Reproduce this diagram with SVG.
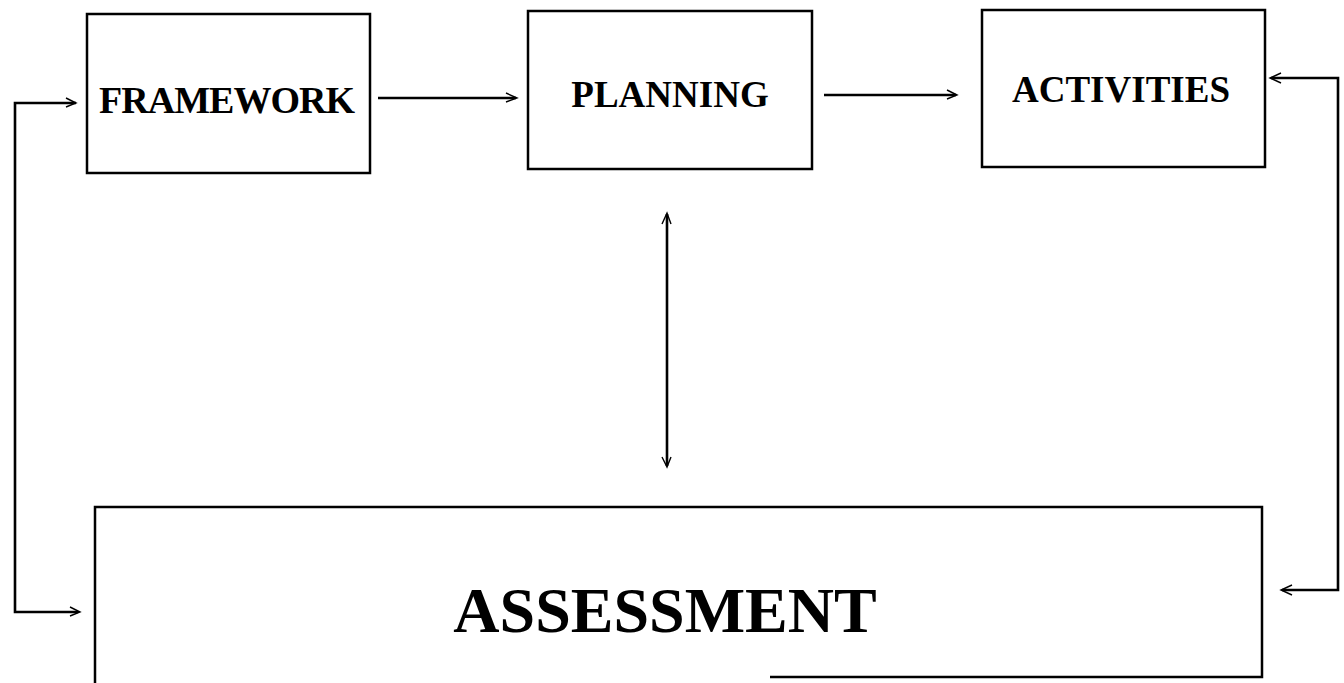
<svg xmlns="http://www.w3.org/2000/svg" width="1344" height="683" viewBox="0 0 1344 683">
<style>
.box{fill:#fff;stroke:#000;stroke-width:2.5}
.lbl{font-family:"Liberation Serif","Times New Roman",serif;font-weight:bold;fill:#000}
.c{fill:none;stroke:#000;stroke-width:2.6}
.h{fill:none;stroke:#000;stroke-width:1.4}
</style>
<rect width="1344" height="683" fill="#fff"/>
<g id="framework"><rect class="box" x="87" y="14" width="283" height="159"/><text class="lbl" x="99" y="113" font-size="38" textLength="256" lengthAdjust="spacing">FRAMEWORK</text></g>
<g id="planning"><rect class="box" x="528" y="11" width="284" height="158"/><text class="lbl" x="670" y="107" font-size="37" text-anchor="middle">PLANNING</text></g>
<g id="activities"><rect class="box" x="982" y="10" width="283" height="157"/><text class="lbl" x="1121" y="102" font-size="37" text-anchor="middle">ACTIVITIES</text></g>
<g id="assessment"><path class="box" fill="none" style="fill:none" d="M95,683 V507 H1262 V677 H770"/><text class="lbl" x="665" y="632" font-size="64" text-anchor="middle">ASSESSMENT</text></g>
<g id="connectors">
<polyline class="c" points="76,103 15,103 15,612 78,612"/>
<polyline class="h" points="66,98 76,103 66,107"/>
<polyline class="h" points="70,607 80,612 70,616"/>
<line class="c" x1="378" y1="98" x2="516" y2="98"/>
<polyline class="h" points="506,93 517,98 506,102"/>
<line class="c" x1="824" y1="95" x2="956" y2="95"/>
<polyline class="h" points="947,90 957,95 947,99"/>
<polyline class="c" points="1271,78 1338,78 1338,590 1282,590"/>
<polyline class="h" points="1281,73 1270,78 1281,83"/>
<polyline class="h" points="1292,585 1281,590 1292,595"/>
<line class="c" x1="667" y1="214" x2="667" y2="466"/>
<polyline class="h" points="662,224 667,213 671,224"/>
<polyline class="h" points="662,457 667,467 671,457"/>
</g>
</svg>
